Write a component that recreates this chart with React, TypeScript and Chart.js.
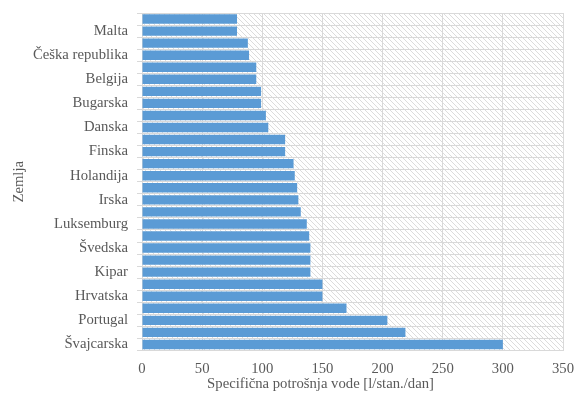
import React, { useEffect, useRef } from "react";
import { Chart, registerables } from "chart.js";

Chart.register(...registerables);

const countries: string[] = [
  "Litvanija", "Malta", "Estonija", "Češka republika", "Slovačka", "Belgija",
  "Poljska", "Bugarska", "Njemačka", "Danska", "Letonija", "Finska",
  "Mađarska", "Holandija", "Slovenija", "Irska", "Austrija", "Luksemburg",
  "Rumunija", "Švedska", "Francuska", "Kipar", "Grčka", "Hrvatska",
  "Španija", "Portugal", "Italija", "Švajcarska",
];

const consumption: number[] = [
  79, 79, 88, 89, 95, 95, 99, 99, 103, 105, 119, 119, 126, 127,
  129, 130, 132, 137, 139, 140, 140, 140, 150, 150, 170, 204, 219, 300,
];

const xTicks: number[] = [0, 50, 100, 150, 200, 250, 300, 350];

const xTitle = "Specifična potrošnja vode [l/stan./dan]";
const yTitle = "Zemlja";

const FONT = "'Liberation Serif', 'Times New Roman', serif";
const TEXT = "#595959";
const GRID = "#d9d9d9";

function makePattern(): CanvasPattern | string {
  const n = 5;
  const c = document.createElement("canvas");
  c.width = n;
  c.height = n;
  const g = c.getContext("2d");
  if (!g) return "#fff";
  g.fillStyle = "#ffffff";
  g.fillRect(0, 0, n, n);
  g.strokeStyle = "#dcdcdc";
  g.lineWidth = 1;
  g.beginPath();
  for (let k = -1; k <= 1; k++) {
    g.moveTo(-2, -2 + k * n);
    g.lineTo(n + 2, n + 2 + k * n);
  }
  g.stroke();
  const p = g.createPattern(c, "repeat");
  return p || "#fff";
}

export default function App() {
  const ref = useRef<HTMLCanvasElement | null>(null);

  useEffect(() => {
    if (!ref.current) return;
    const pattern = makePattern();

    const bgPlugin = {
      id: "hatchBg",
      beforeDraw(chart: any) {
        const { ctx, chartArea } = chart;
        ctx.save();
        ctx.fillStyle = pattern;
        ctx.fillRect(
          chartArea.left,
          chartArea.top,
          chartArea.right - chartArea.left,
          chartArea.bottom - chartArea.top
        );
        ctx.restore();
      },
    };

    const xTitlePlugin = {
      id: "xTitle",
      afterDraw(chart: any) {
        const { ctx } = chart;
        ctx.save();
        ctx.font = `14.7px ${FONT}`;
        ctx.fillStyle = TEXT;
        ctx.textAlign = "center";
        ctx.textBaseline = "middle";
        ctx.fillText(xTitle, 320.5, 384);
        ctx.restore();
      },
    };

    const chart = new Chart(ref.current, {
      type: "bar",
      data: {
        labels: countries,
        datasets: [
          {
            label: xTitle,
            data: consumption,
            backgroundColor: "#5B9BD5",
            borderWidth: 0,
            barPercentage: 1,
            categoryPercentage: 0.78,
          },
        ],
      },
      plugins: [bgPlugin, xTitlePlugin],
      options: {
        indexAxis: "y",
        animation: false,
        responsive: true,
        maintainAspectRatio: false,
        layout: { padding: { top: 13, right: 11, left: 0, bottom: 0 } },
        plugins: {
          legend: { display: false },
          tooltip: { enabled: false },
        },
        scales: {
          x: {
            min: 0,
            max: 350,
            afterBuildTicks: (scale: any) => {
              scale.ticks = xTicks.map((v) => ({ value: v }));
            },
            ticks: {
              color: TEXT,
              font: { family: FONT, size: 14.7 },
              padding: 10,
              maxRotation: 0,
            },
            grid: { color: GRID, drawTicks: false, lineWidth: 1 },
            border: { color: GRID },
            afterFit: (scale: any) => {
              scale.height = 48.5;
              scale.paddingLeft = 0;
              scale.paddingRight = 0;
            },
          },
          y: {
            ticks: {
              autoSkip: false,
              color: TEXT,
              font: { family: FONT, size: 14.7 },
              padding: 9,
              callback: (_v: any, i: number) =>
                i % 2 === 1 ? countries[i] : "",
            },
            grid: { color: GRID, tickLength: 5, offset: true },
            border: { color: GRID },
            title: {
              display: true,
              text: yTitle,
              color: TEXT,
              font: { family: FONT, size: 14.7 },
              padding: { top: 10, bottom: 0 },
            },
            afterFit: (scale: any) => {
              scale.width = 142;
              scale.paddingTop = 0;
              scale.paddingBottom = 0;
            },
          },
        },
      },
    } as any);

    return () => chart.destroy();
  }, []);

  return (
    <div
      style={{
        position: "fixed",
        left: 0,
        top: 0,
        width: 574,
        height: 399,
        background: "#ffffff",
      }}
    >
      <canvas ref={ref} />
    </div>
  );
}
